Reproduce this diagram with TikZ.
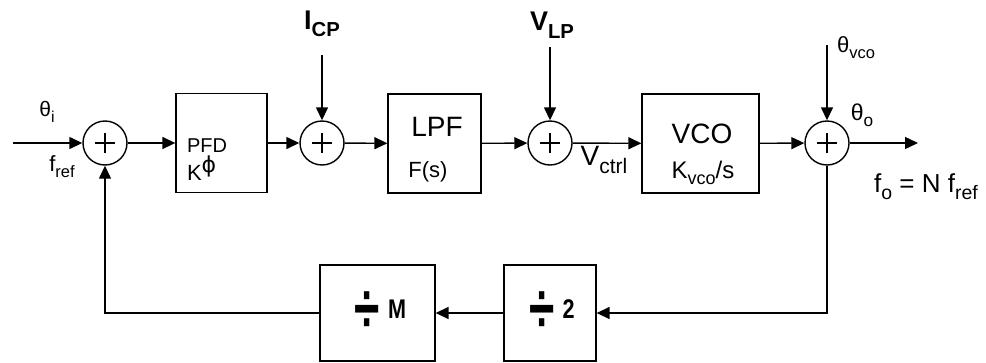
\documentclass[tikz,border=0pt]{standalone}
\usepackage{fontspec}
\setmainfont{Liberation Sans}
\newfontfamily\dv{DejaVu Sans}
\usetikzlibrary{arrows.meta}
\newcommand\sbs[2][0.75]{\raisebox{-0.28em}{\scalebox{#1}{#2}}}
\newcommand\sps[2][0.75]{\raisebox{0.35em}{\scalebox{#1}{#2}}}
\newcommand\fs[1]{\fontsize{#1}{#1}\selectfont}
\newcommand\dvd{\raisebox{-0.05em}{\scalebox{1.15}[1.75]{\fs{40}÷}}}
\begin{document}
\begin{tikzpicture}[x=1pt,y=-1pt,
  blk/.style={draw, line width=1.3pt, minimum height=99pt, inner sep=0pt},
  fblk/.style={draw, line width=1.3pt, minimum height=96pt, inner sep=0pt},
  sumc/.style={draw, circle, minimum size=44pt, line width=1.4pt, inner sep=0pt},
  conn/.style={line width=1.4pt, -{Triangle[length=13pt,width=12pt]}},
  lbl/.style={inner sep=0pt, outer sep=0pt}]
\useasboundingbox (0,0) rectangle (986,362);

% summing junctions
\node[sumc] (s1) at (105,143) {};
\node[sumc] (s2) at (322,143) {};
\node[sumc] (s3) at (550,143) {};
\node[sumc] (s4) at (827,143) {};
\foreach \s in {s1,s2,s3,s4}{
  \draw[line width=1.4pt] ([xshift=-10pt]\s.center) -- ([xshift=10pt]\s.center);
  \draw[line width=1.4pt] ([yshift=-10pt]\s.center) -- ([yshift=10pt]\s.center);
}

% blocks
\node[blk, minimum width=91pt] (pfd) at (221.5,143) {};
\node[blk, minimum width=93pt] (lpf) at (434.5,143.5) {};
\node[blk, minimum width=117pt] (vco) at (700.5,143.5) {};
\node[fblk, minimum width=92pt] (div2) at (550,313) {};
\node[fblk, minimum width=115pt] (divm) at (377.5,313) {};

% block texts
\node[lbl, anchor=base west] (tpfd) at (187,152) {\fs{20}PFD};
\node[lbl, anchor=base west] (tkphi) at (187,180) {\fs{22}K\sps[1]{\dv ϕ}};
\node[lbl] (tlpf) at (437,127) {\fs{28}LPF};
\node[lbl] (tfs) at (428,172) {\fs{22}F(s)};
\node[lbl] (tvco) at (702,134) {\fs{28}VCO};
\node[lbl] (tkvco) at (703,173) {\fs{24}K\sbs{vco}/s};
\node[lbl] (tdivm) at (380.5,312) {\bfseries\dvd\hspace{8pt}\raisebox{13pt}{\scalebox{0.8}[1]{\fs{27}M}}};
\node[lbl] (tdiv2) at (552,312) {\bfseries\dvd\hspace{8pt}\raisebox{13pt}{\scalebox{0.8}[1]{\fs{27}2}}};

% external points
\coordinate (in) at (13,143);
\coordinate (icp) at (322,55);
\coordinate (vlp) at (550,47);
\coordinate (thv) at (827,45);
\coordinate (out) at (918,143);

% connectors
\draw[conn] (in) -- (s1);
\draw[conn] (s1) -- (pfd);
\draw[conn] (pfd) -- (s2);
\draw[conn] (icp) -- (s2);
\draw[conn] (s2) -- (lpf);
\draw[conn] (lpf) -- (s3);
\draw[conn] (vlp) -- (s3);
\draw[conn] (s3) -- (vco);
\draw[conn] (vco) -- (s4);
\draw[conn] (thv) -- (s4);
\draw[conn] (s4) -- (out);
\draw[conn] (s4) |- (div2.east);
\draw[conn] (div2) -- (divm);
\draw[conn] (divm.west) -| (s1);

% signal labels
\node[lbl] (lthi) at (47,112) {\fs{21}θ\sbs{i}};
\node[lbl] (lfref) at (62,167) {\fs{22}f\sbs{ref}};
\node[lbl] (licp) at (322,24) {\bfseries\fs{27}I\sbs{CP}};
\node[lbl] (lvlp) at (552,25) {\bfseries\fs{27}V\sbs{LP}};
\node[lbl] (lvctrl) at (604,160) {\fs{28}V\sbs{ctrl}};
\node[lbl] (lthv) at (856,48) {\fs{22}θ\sbs{vco}};
\node[lbl] (ltho) at (862,115) {\fs{23}θ\sbs{o}};
\node[lbl] (lfo) at (926,187) {\fs{26}f\sbs{o} = N f\sbs{ref}};
\end{tikzpicture}
\end{document}
